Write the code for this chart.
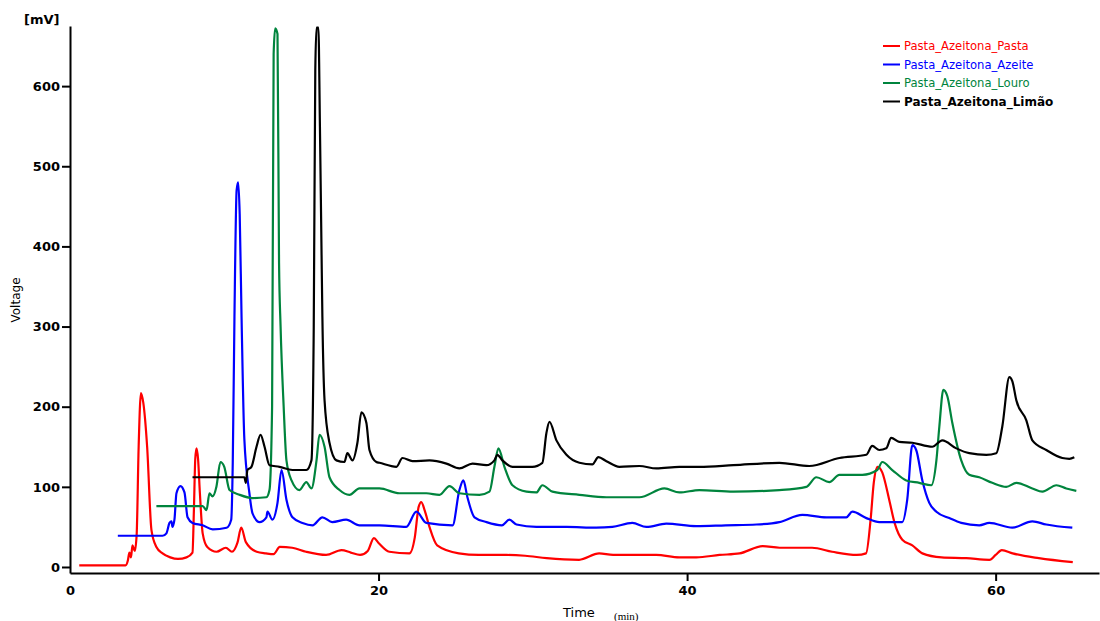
<!DOCTYPE html>
<html>
<head>
<meta charset="utf-8">
<script src="https://cdn.jsdelivr.net/npm/d3@7"></script>
<style>
  body { margin: 0; background: #fff; }
  svg { display: block; }
  .axis path, .axis line { stroke: #000; stroke-width: 2; }
  .axis text { font-family: 'DejaVu Sans', Verdana, sans-serif; font-size: 13px; fill: #000; font-weight: bold; }
</style>
</head>
<body>
<div id="chart"></div>
<script>
// series names and colours
let seriesNames = ['Pasta_Azeitona_Pasta', 'Pasta_Azeitona_Azeite', 'Pasta_Azeitona_Louro', 'Pasta_Azeitona_Limão']
let seriesColors = ['#ff0000', '#0000ff', '#00843d', '#000000']

// [time (min), voltage (mV)]
let pasta = [[0.6,2],[3.6,2],[3.75,8],[3.85,18],[3.95,12],[4.05,27],[4.2,20],[4.32,40],[4.45,150],[4.6,217],[4.75,205],[5.0,150],[5.28,46],[5.6,25],[6.0,17],[6.5,12],[7.0,10],[7.55,12],[7.94,18],[8.03,70],[8.12,135],[8.2,148],[8.3,135],[8.42,92],[8.6,42],[8.9,25],[9.5,19],[10.1,24],[10.5,19],[10.85,30],[11.1,49],[11.4,31],[12.1,19],[12.7,17],[13.2,16],[13.6,25],[14.4,24],[15.3,19],[16.6,15],[17.6,21],[18.2,18],[18.8,15],[19.3,20],[19.7,36],[20.0,30],[20.7,19],[22.0,17],[22.35,37],[22.6,75],[22.77,81],[23.0,70],[23.3,50],[23.8,27],[25.2,17],[26.5,15],[28.3,15],[29.5,14],[30.9,11],[33.0,9],[34.3,17],[35.2,15],[38.0,15],[39.5,12],[40.6,12],[42.1,15],[43.4,17],[44.9,26],[46.0,24],[48.1,24],[49.4,19],[51.0,15],[51.6,17],[51.9,60],[52.1,105],[52.35,125],[52.65,118],[53.1,84],[53.45,55],[53.95,34],[54.6,27],[55.25,17],[56.5,12],[58.1,11],[59.6,9],[60.0,15],[60.4,21],[61.1,17],[62.8,11],[65.0,6]]

let azeite = [[3.1,39],[6.0,39],[6.25,42],[6.45,55],[6.58,57],[6.64,50],[6.77,59],[6.9,92],[7.16,101],[7.42,93],[7.62,62],[7.94,55],[8.6,52],[9.25,47],[10.15,49],[10.45,59],[10.55,130],[10.66,312],[10.8,470],[10.9,480],[11.0,440],[11.12,312],[11.3,160],[11.63,92],[11.83,67],[12.28,56],[12.73,62],[12.8,69],[13.12,59],[13.45,80],[13.71,121],[14.03,84],[14.42,62],[15.07,55],[15.72,52],[16.36,62],[17.0,56],[17.9,59],[18.76,52],[20.06,52],[21.8,50],[22.45,69],[23.1,55],[24.8,52],[25.24,96],[25.5,108],[25.76,87],[26.22,62],[27.0,56],[28.0,52],[28.48,59],[28.94,53],[30.23,50],[32.2,50],[34.1,49],[35.16,50],[36.45,55],[37.36,50],[38.65,54],[40.6,51],[42.5,52],[44.5,53],[45.98,56],[47.47,65],[49.03,62],[50.32,62],[50.71,69],[51.62,61],[52.46,56],[53.95,56],[54.27,84],[54.6,152],[54.85,146],[55.25,108],[55.7,80],[56.16,69],[57.0,61],[57.77,55],[58.94,52],[59.59,55],[61.08,49],[62.38,57],[63.28,53],[64.97,49]]

let louro = [[5.6,76],[8.6,76],[8.85,71],[9.04,92],[9.24,88],[9.49,100],[9.75,131],[10.0,125],[10.34,96],[11.0,90],[11.83,86],[12.73,87],[12.93,96],[13.1,200],[13.2,640],[13.3,672],[13.45,665],[13.55,380],[13.65,300],[13.85,200],[14.03,133],[14.36,108],[14.87,96],[15.32,106],[15.65,98],[15.98,133],[16.17,165],[16.5,150],[16.82,112],[17.47,96],[18.11,90],[18.76,98],[20.06,98],[21.35,92],[23.1,92],[23.95,90],[24.6,101],[25.24,92],[26.54,90],[27.19,94],[27.51,125],[27.77,148],[28.16,125],[28.68,102],[29.59,94],[30.23,93],[30.62,102],[31.27,94],[33.02,90],[34.77,87],[36.91,87],[38.53,98],[39.5,93],[40.8,96],[43.0,94],[45.98,96],[47.73,100],[48.38,112],[49.22,106],[49.87,115],[51.36,115],[52.33,121],[52.65,131],[53.3,121],[54.21,108],[55.05,105],[55.83,102],[56.16,133],[56.35,175],[56.61,221],[56.87,213],[57.19,180],[57.77,133],[58.29,115],[58.94,112],[59.78,105],[60.69,100],[61.34,105],[62.38,98],[63.03,94],[63.94,102],[64.58,98],[65.23,95]]

let limao = [[7.94,112],[11.3,112],[11.4,105],[11.5,121],[11.76,125],[12.09,150],[12.35,165],[12.61,150],[12.93,127],[13.58,125],[14.42,121],[15.32,121],[15.65,133],[15.8,300],[15.9,620],[15.98,673],[16.1,673],[16.2,550],[16.3,400],[16.36,312],[16.5,208],[16.82,155],[17.27,133],[17.79,131],[17.98,142],[18.31,133],[18.63,155],[18.89,193],[19.21,180],[19.41,146],[19.86,131],[20.06,130],[21.16,125],[21.55,136],[22.2,132],[23.3,133],[24.4,129],[25.24,123],[26.09,129],[26.99,127],[27.51,133],[27.7,140],[28.03,133],[28.68,125],[29.97,125],[30.62,130],[30.88,167],[31.08,181],[31.53,158],[32.18,140],[33.02,130],[33.86,128],[34.25,137],[34.77,132],[35.61,125],[36.91,126],[38.01,123],[39.5,125],[40.8,125],[43.0,127],[45.98,130],[47.92,126],[49.87,136],[51.62,140],[52.0,151],[52.46,146],[52.91,148],[53.23,161],[53.75,156],[54.6,155],[55.89,150],[56.54,158],[57.45,148],[58.29,142],[59.39,140],[60.04,142],[60.43,175],[60.89,237],[61.08,232],[61.34,208],[61.99,183],[62.38,158],[63.28,146],[64.32,136],[64.78,135],[65.1,137]]

let allSeries = [pasta, azeite, louro, limao]

let xTicks = [0, 20, 40, 60]
let yTicks = [0, 100, 200, 300, 400, 500, 600]

let width = 1100
let height = 621

let svg = d3
  .select('#chart')
  .append('svg')
  .attr('width', width)
  .attr('height', height)

// scales
let xPositionScale = d3
  .scaleLinear()
  .domain([0, 66.7])
  .range([70, 1099])
let yPositionScale = d3
  .scaleLinear()
  .domain([-7.5, 675])
  .range([573, 26])

let line = d3
  .line()
  .x(d => xPositionScale(d[0]))
  .y(d => yPositionScale(d[1]))
  .curve(d3.curveMonotoneX)

// traces
svg
  .selectAll('.trace')
  .data(allSeries)
  .enter()
  .append('path')
  .attr('class', 'trace')
  .attr('d', line)
  .attr('fill', 'none')
  .attr('stroke', (d, i) => seriesColors[i])
  .attr('stroke-width', 2.2)
  .attr('stroke-linejoin', 'round')

// axes
let xAxis = d3
  .axisBottom(xPositionScale)
  .tickValues(xTicks)
  .tickSize(8)
  .tickSizeOuter(0)
  .tickPadding(5)
svg
  .append('g')
  .attr('class', 'axis x-axis')
  .attr('transform', 'translate(0,573)')
  .call(xAxis)
svg.select('.x-axis .tick line').remove()

let yAxis = d3
  .axisLeft(yPositionScale)
  .tickValues(yTicks)
  .tickSize(8)
  .tickSizeOuter(0)
  .tickPadding(2)
svg
  .append('g')
  .attr('class', 'axis y-axis')
  .attr('transform', 'translate(70,0)')
  .call(yAxis)

// axis titles
svg
  .append('text')
  .text('[mV]')
  .attr('x', 24)
  .attr('y', 24)
  .attr('font-family', 'DejaVu Sans, Verdana, sans-serif')
  .attr('font-size', 13)
  .attr('font-weight', 'bold')

svg
  .append('text')
  .text('Voltage')
  .attr('transform', 'translate(20,300) rotate(-90)')
  .attr('text-anchor', 'middle')
  .attr('font-family', 'DejaVu Sans, Verdana, sans-serif')
  .attr('font-size', 12)

svg
  .append('text')
  .text('Time')
  .attr('x', 563)
  .attr('y', 617)
  .attr('font-family', 'DejaVu Sans, Verdana, sans-serif')
  .attr('font-size', 13)

svg
  .append('text')
  .text('(min)')
  .attr('x', 614)
  .attr('y', 620)
  .attr('font-family', 'Liberation Serif, serif')
  .attr('font-size', 11)

// legend
let legend = svg
  .selectAll('.legend')
  .data(seriesNames)
  .enter()
  .append('g')
  .attr('class', 'legend')
  .attr('transform', (d, i) => 'translate(883,' + (46 + i * 18.5) + ')')

legend
  .append('line')
  .attr('x1', 0)
  .attr('x2', 17)
  .attr('stroke', (d, i) => seriesColors[i])
  .attr('stroke-width', 2)

legend
  .append('text')
  .text(d => d)
  .attr('x', 21)
  .attr('dy', 4)
  .attr('font-family', 'DejaVu Sans, Verdana, sans-serif')
  .attr('font-size', (d, i) => (i === 3 ? 12 : 11.6))
  .attr('font-weight', (d, i) => (i === 3 ? 'bold' : 'normal'))
  .attr('fill', (d, i) => seriesColors[i])
</script>
</body>
</html>
